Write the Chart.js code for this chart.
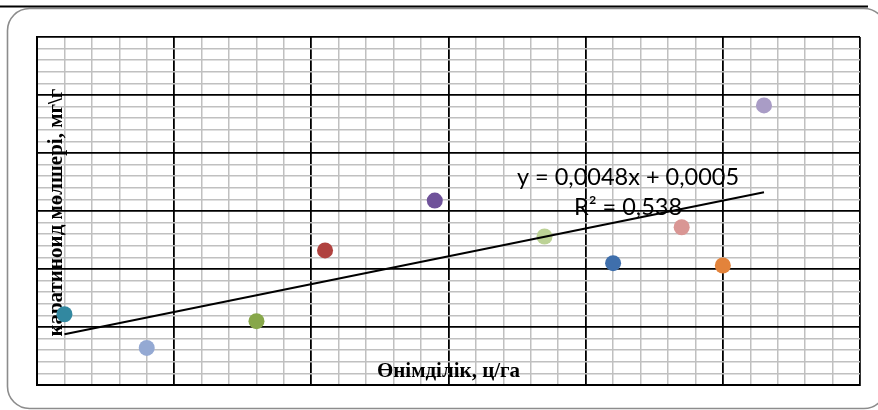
<!DOCTYPE html>
<html>
<head>
<meta charset="utf-8">
<script src="https://cdn.jsdelivr.net/npm/chart.js@4/dist/chart.umd.min.js"></script>
<style>
  html, body { margin: 0; padding: 0; background: #ffffff; }
  #wrap { width: 878px; height: 410px; position: relative; }
</style>
</head>
<body>
<div id="wrap"><canvas id="chart" width="878" height="410"></canvas></div>
<script>
// Yield (c/ha) and carotenoid content (mg/g) for each sample
const yields     = [9.0, 12.0, 16.0, 18.5, 22.5, 26.5, 29.0, 31.5, 33.0, 34.5];
const carotenoid = [0.061, 0.032, 0.055, 0.116, 0.159, 0.128, 0.105, 0.136, 0.103, 0.241];
const pointColors = ['#3288a0', '#94a9d3', '#87a74a', '#b0423f', '#6f529a',
                     '#bcd296', '#3f6fac', '#d99694', '#e3833b', '#a99cc6'];

// Linear trendline
const trendSlope = 0.0048;
const trendIntercept = 0.0005;
const trendR2 = 0.538;

const xTitle = 'Өнімділік, ц/га';
const yTitle = 'каратиноид мөлшері, мг\\г';

const xMin = 8, xMax = 38, xStep = 1, xMajorEvery = 5;
const yMin = 0, yMax = 0.3, yStep = 0.01, yMajorEvery = 5;

const fmt = v => String(v).replace('.', ',');
const trendFn = x => trendSlope * x + trendIntercept;
const trendX0 = Math.min(...yields), trendX1 = Math.max(...yields);

const points = yields.map((x, i) => ({ x: x, y: carotenoid[i] }));

const isMajorX = v => Math.round(v - xMin) % xMajorEvery === 0;
const isMajorY = v => Math.round((v - yMin) / yStep) % yMajorEvery === 0;

const framePlugin = {
  id: 'frame',
  beforeDraw(chart) {
    const ctx = chart.ctx;
    ctx.save();
    ctx.fillStyle = '#ffffff';
    ctx.fillRect(0, 0, chart.width, chart.height);
    // rounded outer frame
    const x0 = 7.5, y0 = 8.5, x1 = 886, y1 = 408.5, r = 22;
    ctx.beginPath();
    ctx.moveTo(x0 + r, y0);
    ctx.lineTo(x1 - r, y0);
    ctx.arcTo(x1, y0, x1, y0 + r, r);
    ctx.lineTo(x1, y1 - r);
    ctx.arcTo(x1, y1, x1 - r, y1, r);
    ctx.lineTo(x0 + r, y1);
    ctx.arcTo(x0, y1, x0, y1 - r, r);
    ctx.lineTo(x0, y0 + r);
    ctx.arcTo(x0, y0, x0 + r, y0, r);
    ctx.closePath();
    ctx.strokeStyle = '#8c8c8c';
    ctx.lineWidth = 1.6;
    ctx.stroke();
    // top rule
    ctx.beginPath();
    ctx.moveTo(0, 6.5);
    ctx.lineTo(868, 6.5);
    ctx.strokeStyle = '#000000';
    ctx.lineWidth = 2;
    ctx.stroke();
    ctx.restore();
  },
  beforeDatasetsDraw(chart) {
    const ctx = chart.ctx;
    const a = chart.chartArea;
    ctx.save();
    ctx.fillStyle = '#000000';
    ctx.font = 'bold 21px "Liberation Serif", "Times New Roman", serif';
    ctx.textAlign = 'center';
    ctx.textBaseline = 'alphabetic';
    ctx.fillText(xTitle, (a.left + a.right) / 2, a.bottom - 8);
    ctx.translate(a.left + 25, (a.top + a.bottom) / 2 + 1.5);
    ctx.rotate(-Math.PI / 2);
    ctx.fillText(yTitle, 0, 0);
    ctx.restore();
  },
  afterDatasetsDraw(chart) {
    const ctx = chart.ctx;
    ctx.save();
    ctx.fillStyle = '#000000';
    ctx.font = '23.5px Lato, "Open Sans", sans-serif';
    ctx.textAlign = 'center';
    ctx.textBaseline = 'alphabetic';
    const cx = 628;
    ctx.fillText('y = ' + fmt(trendSlope) + 'x + ' + fmt(trendIntercept), cx, 185);
    ctx.fillText('R² = ' + fmt(trendR2), cx, 215);
    ctx.restore();
  }
};

new Chart(document.getElementById('chart'), {
  type: 'scatter',
  data: {
    datasets: [
      {
        label: 'trend',
        data: [{ x: trendX0, y: trendFn(trendX0) }, { x: trendX1, y: trendFn(trendX1) }],
        showLine: true,
        borderColor: '#000000',
        borderWidth: 2,
        pointRadius: 0,
        order: 0
      },
      {
        label: 'samples',
        data: points,
        backgroundColor: pointColors,
        borderWidth: 0,
        pointRadius: 8,
        order: 1
      }
    ]
  },
  options: {
    responsive: false,
    animation: false,
    devicePixelRatio: 1,
    layout: { padding: { left: 37, top: 37, right: 18, bottom: 25 } },
    plugins: { legend: { display: false }, tooltip: { enabled: false } },
    scales: {
      x: {
        type: 'linear',
        min: xMin, max: xMax,
        ticks: { display: false, stepSize: xStep },
        grid: {
          drawTicks: false,
          color: c => isMajorX(c.tick.value) ? '#000000' : '#c0c0c0',
          lineWidth: c => isMajorX(c.tick.value) ? 1.8 : 1.5
        },
        border: { display: true, color: '#000000', width: 2 }
      },
      y: {
        type: 'linear',
        min: yMin, max: yMax,
        ticks: { display: false, stepSize: yStep },
        grid: {
          drawTicks: false,
          color: c => isMajorY(c.tick.value) ? '#000000' : '#c0c0c0',
          lineWidth: c => isMajorY(c.tick.value) ? 1.8 : 1.5
        },
        border: { display: true, color: '#000000', width: 2 }
      }
    }
  },
  plugins: [framePlugin]
});
</script>
</body>
</html>
